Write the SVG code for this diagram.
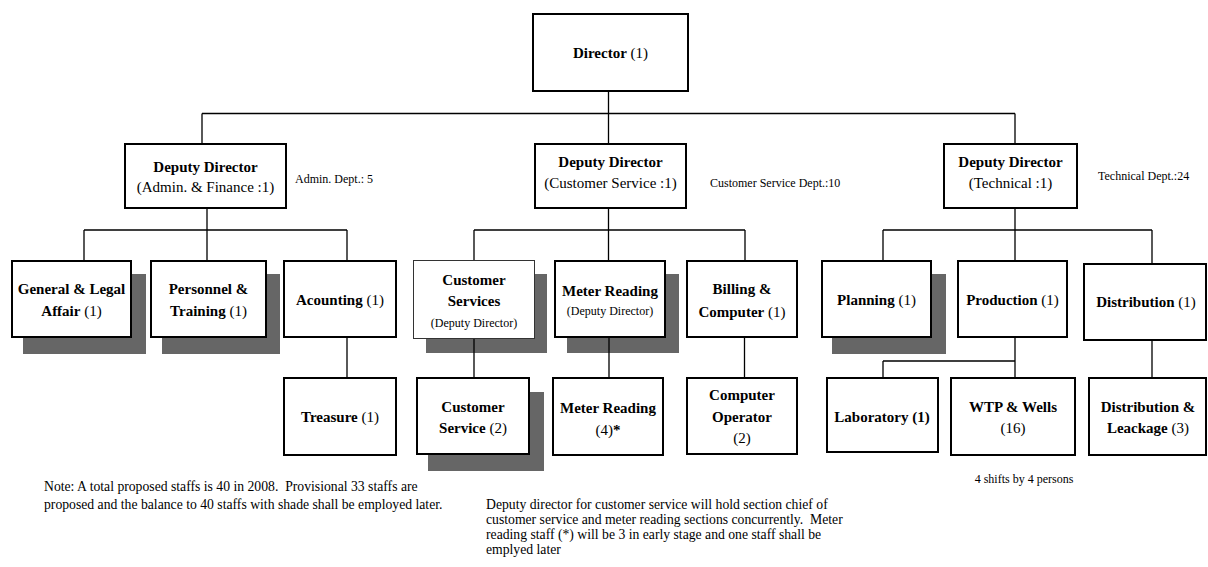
<svg xmlns="http://www.w3.org/2000/svg" width="1208" height="567" viewBox="0 0 1208 567">
<style>
  text { font-family: "Liberation Serif", "Times New Roman", serif; fill: #000; }
  .t { font-size: 15px; text-anchor: middle; }
  .b { font-weight: bold; }
  .s { font-size: 12px; }
  .sm { font-size: 12px; text-anchor: middle; }
  .note { font-size: 13.7px; white-space: pre; }
  .box { fill: #fff; stroke: #000; stroke-width: 2; }
  .thin { fill: #fff; stroke: #333; stroke-width: 1; }
  .shadow { fill: #666; stroke: none; }
  .con { stroke: #000; stroke-width: 1.3; fill: none; }
</style>
<rect width="1208" height="567" fill="#fff"/>

<g id="director">
  <rect class="box" x="533" y="14" width="155" height="77"/>
  <text class="t" x="610.5" y="58"><tspan class="b">Director</tspan> (1)</text>
</g>

<g id="deputy-admin">
  <rect class="box" x="125" y="144" width="161" height="64"/>
  <text class="t b" x="205.5" y="172">Deputy Director</text>
  <text class="t" x="205.5" y="192">(Admin. &amp; Finance :1)</text>
  <text class="s" x="295" y="183">Admin. Dept.: 5</text>
</g>

<g id="deputy-customer">
  <rect class="box" x="535" y="144" width="151" height="64"/>
  <text class="t b" x="610.5" y="167">Deputy Director</text>
  <text class="t" x="610.5" y="188">(Customer Service :1)</text>
  <text class="s" x="710" y="187">Customer Service Dept.:10</text>
</g>

<g id="deputy-technical">
  <rect class="box" x="944" y="144" width="133" height="64"/>
  <text class="t b" x="1010.5" y="167">Deputy Director</text>
  <text class="t" x="1010.5" y="188">(Technical :1)</text>
  <text class="s" x="1098" y="180">Technical Dept.:24</text>
</g>

<g id="general-legal">
  <rect class="shadow" x="23" y="274" width="123" height="80"/>
  <rect class="box" x="12" y="261" width="119" height="76"/>
  <text class="t b" x="71.5" y="294">General &amp; Legal</text>
  <text class="t" x="71.5" y="316"><tspan class="b">Affair</tspan> (1)</text>
</g>

<g id="personnel-training">
  <rect class="shadow" x="162" y="274" width="118" height="80"/>
  <rect class="box" x="151" y="261" width="115" height="76"/>
  <text class="t b" x="208.5" y="294">Personnel &amp;</text>
  <text class="t" x="208.5" y="316"><tspan class="b">Training</tspan> (1)</text>
</g>

<g id="acounting">
  <rect class="box" x="284" y="261" width="112" height="76"/>
  <text class="t" x="340" y="305"><tspan class="b">Acounting</tspan> (1)</text>
</g>

<g id="treasure">
  <rect class="box" x="284" y="378" width="112" height="77"/>
  <text class="t" x="340" y="422"><tspan class="b">Treasure</tspan> (1)</text>
</g>

<g id="customer-services">
  <rect class="shadow" x="426" y="274" width="121" height="79"/>
  <rect class="thin" x="413.5" y="260.5" width="121" height="78"/>
  <text class="t b" x="474" y="285">Customer</text>
  <text class="t b" x="474" y="306">Services</text>
  <text class="sm" x="474" y="327">(Deputy Director)</text>
</g>

<g id="meter-reading-section">
  <rect class="shadow" x="567" y="274" width="112" height="79"/>
  <rect class="box" x="555" y="261" width="110" height="76"/>
  <text class="t b" x="610" y="296">Meter Reading</text>
  <text class="sm" x="610" y="315">(Deputy Director)</text>
</g>

<g id="billing-computer">
  <rect class="box" x="687" y="261" width="110" height="76"/>
  <text class="t b" x="742" y="294">Billing &amp;</text>
  <text class="t" x="742" y="317"><tspan class="b">Computer</tspan> (1)</text>
</g>

<g id="customer-service-staff">
  <rect class="shadow" x="428" y="392" width="116" height="79"/>
  <rect class="box" x="417" y="378" width="112" height="76"/>
  <text class="t b" x="473" y="412">Customer</text>
  <text class="t" x="473" y="433"><tspan class="b">Service</tspan> (2)</text>
</g>

<g id="meter-reading-staff">
  <rect class="box" x="553" y="378" width="110" height="77"/>
  <text class="t b" x="608" y="413">Meter Reading</text>
  <text class="t" x="608" y="435">(4)<tspan class="b">*</tspan></text>
</g>

<g id="computer-operator">
  <rect class="box" x="687" y="378" width="110" height="76"/>
  <text class="t b" x="742" y="400">Computer</text>
  <text class="t b" x="742" y="421.5">Operator</text>
  <text class="t" x="742" y="443">(2)</text>
</g>

<g id="planning">
  <rect class="shadow" x="832" y="274" width="114" height="80"/>
  <rect class="box" x="822" y="261" width="109" height="76"/>
  <text class="t" x="876.5" y="305"><tspan class="b">Planning</tspan> (1)</text>
</g>

<g id="production">
  <rect class="box" x="958" y="261" width="109" height="76"/>
  <text class="t" x="1012.5" y="305"><tspan class="b">Production</tspan> (1)</text>
</g>

<g id="distribution">
  <rect class="box" x="1084" y="264" width="122" height="76"/>
  <text class="t" x="1146" y="307"><tspan class="b">Distribution</tspan> (1)</text>
</g>

<g id="laboratory">
  <rect class="box" x="827" y="378" width="111" height="74"/>
  <text class="t b" x="882" y="421.5">Laboratory (1)</text>
</g>

<g id="wtp-wells">
  <rect class="box" x="951" y="378" width="124" height="77"/>
  <text class="t b" x="1013" y="411.5">WTP &amp; Wells</text>
  <text class="t" x="1013" y="433">(16)</text>
</g>

<g id="distribution-leackage">
  <rect class="box" x="1089" y="378" width="117" height="77"/>
  <text class="t b" x="1148" y="411.5">Distribution &amp;</text>
  <text class="t" x="1148" y="433"><tspan class="b">Leackage</tspan> (3)</text>
  <text class="sm" x="1024" y="483">4 shifts by 4 persons</text>
</g>

<g id="connectors">
  <path class="con" d="M608.5 92 V113.5 M202 113.5 H1015 M202 113.5 V143 M608.5 113.5 V143 M1015 113.5 V143"/>
  <path class="con" d="M207 209 V230 M84 230 H347 M84 230 V260 M207 230 V260 M347 230 V260 M347 338 V377"/>
  <path class="con" d="M608.5 209 V230 M474 230 H745 M474 230 V260 M608.5 230 V260 M745 230 V260"/>
  <path class="con" d="M474 339 V377 M609 338 V377 M744.5 338 V377"/>
  <path class="con" d="M1015 209 V230 M883 230 H1152 M883 230 V260 M1015 230 V260 M1152 230 V263"/>
  <path class="con" d="M1015 338 V377 M883 361 H1015 M883 361 V377 M1152 341 V377"/>
</g>

<g id="notes">
  <text class="note" x="44" y="491" xml:space="preserve">Note: A total proposed staffs is 40 in 2008.  Provisional 33 staffs are</text>
  <text class="note" x="44" y="509">proposed and the balance to 40 staffs with shade shall be employed later.</text>
  <text class="note" x="486" y="509">Deputy director for customer service will hold section chief of</text>
  <text class="note" x="486" y="524" xml:space="preserve">customer service and meter reading sections concurrently.  Meter</text>
  <text class="note" x="486" y="539">reading staff (*) will be 3 in early stage and one staff shall be</text>
  <text class="note" x="486" y="554">emplyed later</text>
</g>
</svg>
